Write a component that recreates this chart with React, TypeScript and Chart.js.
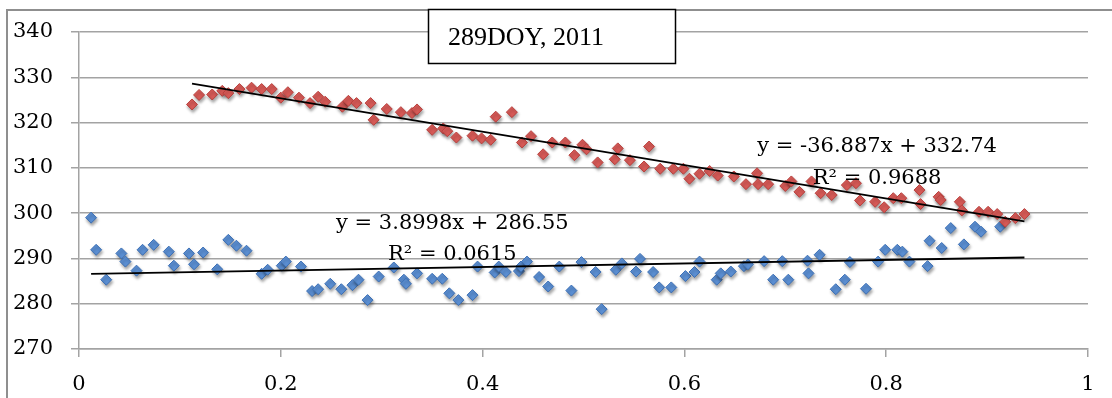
import React, { useEffect, useRef } from "react";
import { Chart, registerables } from "chart.js";

Chart.register(...registerables);

// ---- Data ----
const blueX = [
  0.012, 0.017, 0.027, 0.042, 0.046, 0.057, 0.063, 0.074, 0.089, 0.094,
  0.109, 0.114, 0.123, 0.137, 0.148, 0.156, 0.166, 0.181, 0.187, 0.201,
  0.205, 0.220, 0.231, 0.237, 0.249, 0.260, 0.271, 0.277, 0.286, 0.297,
  0.312, 0.322, 0.324, 0.335, 0.350, 0.360, 0.367, 0.376, 0.390, 0.395,
  0.412, 0.416, 0.423, 0.436, 0.438, 0.444, 0.456, 0.465, 0.476, 0.488,
  0.498, 0.512, 0.518, 0.532, 0.538, 0.552, 0.556, 0.569, 0.575, 0.587,
  0.601, 0.610, 0.615, 0.632, 0.636, 0.646, 0.659, 0.663, 0.679, 0.688,
  0.697, 0.703, 0.722, 0.723, 0.734, 0.750, 0.759, 0.764, 0.780, 0.792,
  0.799, 0.811, 0.816, 0.823, 0.841, 0.843, 0.855, 0.864, 0.877, 0.888,
  0.894, 0.913,
];
const blueY = [
  299.0, 291.9, 285.3, 291.1, 289.3, 287.3, 291.9, 293.0, 291.5, 288.4,
  291.1, 288.7, 291.3, 287.6, 294.1, 292.8, 291.7, 286.6, 287.5, 288.4,
  289.3, 288.2, 282.8, 283.2, 284.4, 283.2, 284.1, 285.3, 280.8, 286.0,
  288.0, 285.3, 284.4, 286.7, 285.5, 285.5, 282.3, 280.8, 281.9, 288.2,
  286.9, 288.2, 287.0, 287.2, 288.2, 289.3, 285.9, 283.8, 288.2, 282.9,
  289.2, 287.0, 278.8, 287.5, 288.9, 287.1, 289.9, 287.0, 283.6, 283.6,
  286.1, 287.0, 289.3, 285.3, 286.7, 287.1, 288.3, 288.7, 289.4, 285.3,
  289.4, 285.3, 289.5, 286.7, 290.8, 283.2, 285.3, 289.2, 283.3, 289.3,
  291.9, 291.9, 291.5, 289.3, 288.3, 293.9, 292.3, 296.7, 293.1, 297.0,
  295.9, 297.0,
];

const redX = [
  0.112, 0.119, 0.132, 0.142, 0.148, 0.159, 0.171, 0.181, 0.191, 0.200,
  0.207, 0.218, 0.229, 0.237, 0.244, 0.261, 0.267, 0.275, 0.289, 0.292,
  0.305, 0.319, 0.330, 0.335, 0.350, 0.361, 0.365, 0.374, 0.390, 0.399,
  0.408, 0.413, 0.429, 0.439, 0.448, 0.460, 0.469, 0.482, 0.491, 0.499,
  0.503, 0.514, 0.531, 0.534, 0.546, 0.560, 0.565, 0.576, 0.589, 0.599,
  0.605, 0.615, 0.625, 0.633, 0.649, 0.661, 0.672, 0.673, 0.683, 0.700,
  0.706, 0.714, 0.726, 0.735, 0.746, 0.761, 0.770, 0.774, 0.789, 0.798,
  0.807, 0.815, 0.833, 0.834, 0.852, 0.854, 0.873, 0.875, 0.892, 0.901,
  0.910, 0.918, 0.928, 0.937,
];
const redY = [
  324.0, 326.1, 326.2, 327.0, 326.5, 327.4, 327.7, 327.4, 327.4, 325.5,
  326.7, 325.5, 324.3, 325.7, 324.6, 323.5, 324.8, 324.3, 324.3, 320.6,
  323.0, 322.3, 322.1, 322.9, 318.4, 318.7, 318.1, 316.7, 317.1, 316.5,
  316.2, 321.3, 322.3, 315.6, 317.0, 313.0, 315.6, 315.6, 312.8, 315.1,
  314.1, 311.2, 311.9, 314.3, 311.7, 310.3, 314.7, 309.8, 309.8, 309.8,
  307.6, 308.7, 309.3, 308.3, 308.1, 306.4, 308.8, 306.4, 306.4, 306.0,
  307.0, 304.7, 307.0, 304.4, 304.0, 306.2, 306.6, 302.8, 302.5, 301.3,
  303.3, 303.3, 305.1, 302.0, 303.6, 302.9, 302.5, 300.6, 300.3, 300.3,
  299.8, 298.1, 298.9, 299.8,
];

const xTickLabels = ["0", "0.2", "0.4", "0.6", "0.8", "1"];

const redSlope = -36.887;
const redIntercept = 332.74;
const blueSlope = 3.8998;
const blueIntercept = 286.55;

const redEquation = "y = -36.887x + 332.74";
const redR2 = "R\u00B2 = 0.9688";
const blueEquation = "y = 3.8998x + 286.55";
const blueR2 = "R\u00B2 = 0.0615";
const chartTitle = "289DOY, 2011";

// label anchors in data space
const redLabelAt = { x: 0.791, y1: 313.5, y2: 306.4 };
const blueLabelAt = { x: 0.37, y1: 296.5, y2: 289.7 };

const GRID = "#a3a3a3";
const SERIF = '"DejaVu Serif", serif';

function App() {
  const ref = useRef<HTMLCanvasElement | null>(null);

  useEffect(() => {
    const canvas = ref.current;
    if (!canvas) return;

    const toPts = (xs: number[], ys: number[]) => xs.map((x, i) => ({ x, y: ys[i] }));
    const allX = [...blueX, ...redX];
    const xMaxAll = Math.max(...allX);
    const redTrend = [Math.min(...redX), Math.max(...redX)].map((x) => ({ x, y: redSlope * x + redIntercept }));
    const blueTrend = [Math.min(...blueX), xMaxAll].map((x) => ({ x, y: blueSlope * x + blueIntercept }));

    const shadowPlugin = {
      id: "markerShadow",
      beforeDatasetDraw(chart: any, args: any) {
        const ds = chart.data.datasets[args.index];
        if (ds && ds.shadow) {
          const ctx = chart.ctx;
          ctx.save();
          ctx.shadowColor = "rgba(0,0,0,0.35)";
          ctx.shadowBlur = 3;
          ctx.shadowOffsetX = 1;
          ctx.shadowOffsetY = 2.5;
        }
      },
      afterDatasetDraw(chart: any, args: any) {
        const ds = chart.data.datasets[args.index];
        if (ds && ds.shadow) chart.ctx.restore();
      },
    };

    const decoPlugin = {
      id: "deco",
      beforeDraw(chart: any) {
        const ctx = chart.ctx;
        ctx.save();
        ctx.fillStyle = "#ffffff";
        ctx.fillRect(0, 0, chart.width, chart.height);
        ctx.restore();
      },
      afterDraw(chart: any) {
        const ctx = chart.ctx;
        const xs = chart.scales.x;
        const ys = chart.scales.y;
        ctx.save();
        // outer frame
        ctx.strokeStyle = "#8f8f8f";
        ctx.lineWidth = 2;
        ctx.beginPath();
        ctx.moveTo(7, chart.height + 2);
        ctx.lineTo(7, 10);
        ctx.lineTo(chart.width + 2, 10);
        ctx.stroke();
        // title box
        ctx.fillStyle = "#ffffff";
        ctx.fillRect(428, 9, 248, 55);
        ctx.strokeStyle = "#000000";
        ctx.lineWidth = 1.5;
        ctx.strokeRect(428.5, 9.5, 247, 54);
        ctx.fillStyle = "#000000";
        ctx.font = '26px "Liberation Serif", serif';
        ctx.textAlign = "left";
        ctx.textBaseline = "alphabetic";
        ctx.fillText(chartTitle, 448, 45);
        // equations
        ctx.font = "21px " + SERIF;
        ctx.textAlign = "center";
        const rx = xs.getPixelForValue(redLabelAt.x);
        ctx.fillText(redEquation, rx, ys.getPixelForValue(redLabelAt.y1));
        ctx.fillText(redR2, rx, ys.getPixelForValue(redLabelAt.y2));
        const bx = xs.getPixelForValue(blueLabelAt.x);
        ctx.fillText(blueEquation, bx, ys.getPixelForValue(blueLabelAt.y1));
        ctx.fillText(blueR2, bx, ys.getPixelForValue(blueLabelAt.y2));
        ctx.restore();
      },
    };

    const chart = new Chart(canvas, {
      type: "scatter",
      data: {
        datasets: [
          {
            label: "trend red",
            data: redTrend,
            showLine: true,
            borderColor: "#000000",
            borderWidth: 1.8,
            pointRadius: 0,
            order: 0,
          } as any,
          {
            label: "trend blue",
            data: blueTrend,
            showLine: true,
            borderColor: "#000000",
            borderWidth: 1.8,
            pointRadius: 0,
            order: 0,
          } as any,
          {
            label: "red",
            data: toPts(redX, redY),
            pointStyle: "rectRot",
            pointRadius: 5.5,
            backgroundColor: "#d75a57",
            borderColor: "#b9413e",
            borderWidth: 1,
            order: 1,
            shadow: true,
          } as any,
          {
            label: "blue",
            data: toPts(blueX, blueY),
            pointStyle: "rectRot",
            pointRadius: 5.5,
            backgroundColor: "#5b8fd3",
            borderColor: "#3d70b5",
            borderWidth: 1,
            order: 2,
            shadow: true,
          } as any,
        ],
      },
      options: {
        animation: false,
        responsive: false,
        maintainAspectRatio: false,
        layout: { padding: { left: 0, top: 32, right: 24, bottom: 0 } },
        plugins: {
          legend: { display: false },
          tooltip: { enabled: false },
          title: { display: false },
        },
        scales: {
          x: {
            type: "linear",
            min: 0,
            max: 1,
            ticks: {
              stepSize: 0.2,
              color: "#000000",
              font: { family: SERIF, size: 21 },
              padding: 15,
              maxRotation: 0,
              callback: (_v: any, i: number) => xTickLabels[i],
            },
            grid: {
              drawOnChartArea: false,
              drawTicks: true,
              tickLength: 8,
              color: GRID,
              lineWidth: 1.5,
            },
            border: { display: true, color: GRID, width: 1.5 },
            afterFit: (s: any) => {
              s.height = 49;
            },
          },
          y: {
            type: "linear",
            min: 270,
            max: 340,
            ticks: {
              stepSize: 10,
              color: "#000000",
              font: { family: SERIF, size: 21 },
              padding: 18,
            },
            grid: {
              drawOnChartArea: true,
              drawTicks: true,
              tickLength: 8,
              color: GRID,
              lineWidth: 1.5,
            },
            border: { display: true, color: GRID, width: 1.5 },
            afterFit: (s: any) => {
              s.width = 79;
            },
          },
        },
      } as any,
      plugins: [shadowPlugin, decoPlugin],
    });

    return () => chart.destroy();
  }, []);

  return (
    <div style={{ position: "fixed", left: 0, top: 0, width: 1112, height: 398, background: "#fff" }}>
      <canvas ref={ref} width={1112} height={398} style={{ display: "block", width: 1112, height: 398 }} />
    </div>
  );
}

export default App;
